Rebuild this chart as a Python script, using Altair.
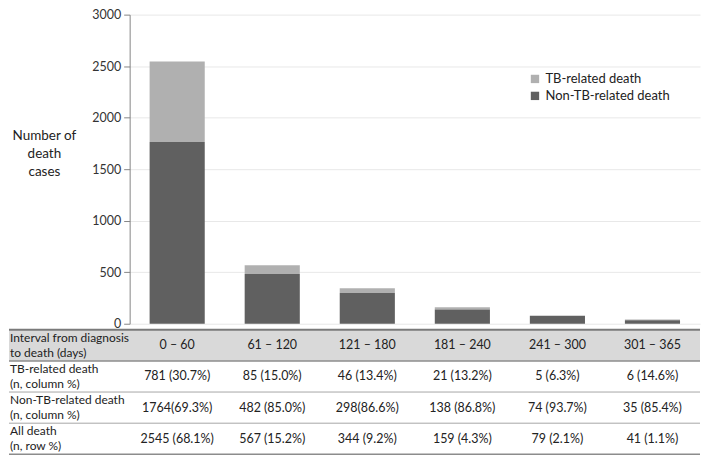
import altair as alt
import pandas as pd

FONT = "Lato"

intervals = ["0 – 60", "61 – 120", "121 – 180", "181 – 240", "241 – 300", "301 – 365"]
series = ["TB-related death", "Non-TB-related death"]
tb_related = [781, 85, 46, 21, 5, 6]
non_tb_related = [1764, 482, 298, 138, 74, 35]
y_ticks = [0, 500, 1000, 1500, 2000, 2500, 3000]

row_labels = [
    "Interval from diagnosis\nto death (days)",
    "TB-related death\n(n, column %)",
    "Non-TB-related death\n(n, column %)",
    "All death\n(n, row %)",
]
tb_cells = ["781 (30.7%)", "85 (15.0%)", "46 (13.4%)", "21 (13.2%)", "5 (6.3%)", "6 (14.6%)"]
non_tb_cells = ["1764(69.3%)", "482 (85.0%)", "298(86.6%)", "138 (86.8%)", "74 (93.7%)", "35 (85.4%)"]
all_cells = ["2545 (68.1%)", "567 (15.2%)", "344 (9.2%)", "159 (4.3%)", "79 (2.1%)", "41 (1.1%)"]

W = 572
H_TOP = 310
H_TAB = 125
LEFT = 121

# ---- bar data
bar_rows = []
for i, iv in enumerate(intervals):
    bar_rows.append({"interval": iv, "series": series[0], "count": tb_related[i], "ord": 1})
    bar_rows.append({"interval": iv, "series": series[1], "count": non_tb_related[i], "ord": 0})
bar_df = pd.DataFrame(bar_rows)

xscale = alt.Scale(domain=intervals, paddingInner=0.42, paddingOuter=0.21)

bars = alt.Chart(bar_df).mark_bar().encode(
    x=alt.X("interval:N", sort=intervals, scale=xscale, axis=None),
    y=alt.Y(
        "count:Q",
        stack="zero",
        scale=alt.Scale(domain=[0, 3000], nice=False),
        axis=alt.Axis(
            values=y_ticks,
            format="d",
            title=["Number of", "death", "cases"],
            titleAngle=0,
            titleAlign="center",
            titleBaseline="top",
            titleX=-86,
            titleY=114,
            titleFontSize=13.5,
            titleFontWeight="normal",
            titleLineHeight=18,
            titleColor="#222222",
            labelFontSize=12.5,
            labelColor="#333333",
            labelPadding=3,
            tickSize=6,
            tickColor="#868686",
            domainColor="#868686",
            gridColor="#e8e8e8",
        ),
    ),
    color=alt.Color(
        "series:N",
        scale=alt.Scale(domain=series, range=["#b0b0b0", "#606060"]),
        legend=alt.Legend(
            orient="none",
            legendX=400,
            legendY=58,
            title=None,
            symbolType="square",
            symbolSize=70,
            symbolStrokeWidth=0,
            labelFontSize=13,
            labelColor="#222222",
            rowPadding=3,
            labelOffset=4,
        ),
    ),
    order=alt.Order("ord:Q"),
).properties(width=W, height=H_TOP)

# ---- table data
cells = []
for i, iv in enumerate(intervals):
    cells.append({"row": row_labels[0], "interval": iv, "cell": iv})
    cells.append({"row": row_labels[1], "interval": iv, "cell": tb_cells[i]})
    cells.append({"row": row_labels[2], "interval": iv, "cell": non_tb_cells[i]})
    cells.append({"row": row_labels[3], "interval": iv, "cell": all_cells[i]})
cell_df = pd.DataFrame(cells)

yscale = alt.Scale(domain=row_labels, paddingInner=0, paddingOuter=0)


def yenc(band=None):
    if band is None:
        return alt.Y("row:N", sort=row_labels, scale=yscale, axis=None)
    return alt.Y("row:N", sort=row_labels, scale=yscale, axis=None, bandPosition=band)


header_bg = alt.Chart(pd.DataFrame({"row": [row_labels[0]]})).mark_rect(color="#d9d9d9").encode(
    y=yenc(), x=alt.value(-LEFT), x2=alt.value(W)
)

thin_rules = alt.Chart(pd.DataFrame({"row": row_labels[2:]})).mark_rule(color="#a6a6a6", strokeWidth=1).encode(
    y=yenc(0), x=alt.value(-LEFT), x2=alt.value(W)
)

mid_rule = alt.Chart(pd.DataFrame({"row": [row_labels[1]]})).mark_rule(color="#8c8c8c", strokeWidth=1.5).encode(
    y=yenc(0), x=alt.value(-LEFT), x2=alt.value(W)
)

top_rule = alt.Chart(pd.DataFrame({"row": [row_labels[0]]})).mark_rule(color="#7a7a7a", strokeWidth=2).encode(
    y=yenc(0), x=alt.value(-LEFT), x2=alt.value(W)
)

bottom_rule = alt.Chart(pd.DataFrame({"row": [row_labels[3]]})).mark_rule(color="#8c8c8c", strokeWidth=1.5).encode(
    y=yenc(1), x=alt.value(-LEFT), x2=alt.value(W)
)

row_text = alt.Chart(pd.DataFrame({"row": row_labels})).mark_text(
    fontSize=12, font=FONT, color="#222222", align="left", baseline="middle",
    lineBreak="\n", lineHeight=15, dy=-7.5
).encode(
    y=yenc(), x=alt.value(-LEFT + 1), text="row:N"
)

cell_text = alt.Chart(cell_df).mark_text(fontSize=12.5, font=FONT, color="#222222").encode(
    x=alt.X("interval:N", sort=intervals, scale=xscale, axis=None),
    y=yenc(),
    text="cell:N",
)

table = alt.layer(header_bg, thin_rules, mid_rule, top_rule, bottom_rule, row_text, cell_text).properties(
    width=W, height=H_TAB
)

chart = (
    alt.vconcat(bars, table, spacing=6, bounds="flush")
    .properties(padding={"left": 0, "right": 0, "top": 0, "bottom": 0})
    .configure(font=FONT)
    .configure_view(stroke=None)
)

chart.save("out.html", embed_options={"renderer": "svg", "actions": False})
